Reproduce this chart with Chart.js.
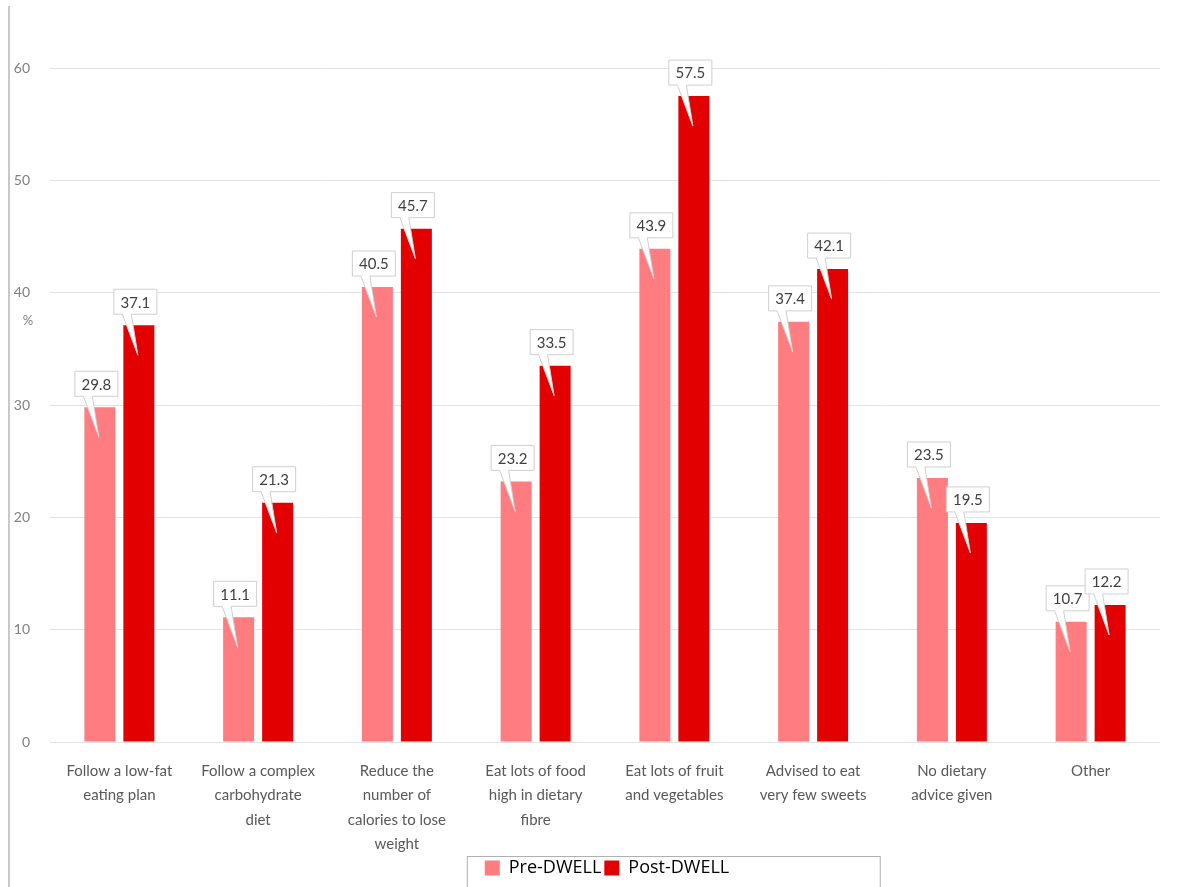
<!DOCTYPE html>
<html>
<head>
<meta charset="utf-8">
<script src="https://cdn.jsdelivr.net/npm/chart.js@4.4.1/dist/chart.umd.min.js"></script>
<style>
  body { margin: 0; background: #fff; }
  #wrap { position: relative; width: 1177px; height: 887px; }
  #edge { position: absolute; left: 8px; top: 6px; width: 2px; height: 881px; background: #c8c8c8; }
</style>
</head>
<body>
<div id="wrap">
  <div id="edge"></div>
  <canvas id="BarChart" width="1177" height="887"></canvas>
</div>
<script>
var categories = [
  ["Follow a low-fat", "eating plan"],
  ["Follow a complex", "carbohydrate", "diet"],
  ["Reduce the", "number of", "calories to lose", "weight"],
  ["Eat lots of food", "high in dietary", "fibre"],
  ["Eat lots of fruit", "and vegetables"],
  ["Advised to eat", "very few sweets"],
  ["No dietary", "advice given"],
  ["Other"]
];
var preValues = [29.8, 11.1, 40.5, 23.2, 43.9, 37.4, 23.5, 10.7];
var postValues = [37.1, 21.3, 45.7, 33.5, 57.5, 42.1, 19.5, 12.2];
var yTicks = [0, 10, 20, 30, 40, 50, 60];

// callout boxes above each bar
var callouts = {
  id: "callouts",
  afterDatasetsDraw: function(chart) {
    var ctx = chart.ctx;
    ctx.save();
    ctx.font = "15px Lato, 'Open Sans', sans-serif";
    ctx.textAlign = "center";
    ctx.textBaseline = "middle";
    chart.data.datasets.forEach(function(ds, di) {
      var meta = chart.getDatasetMeta(di);
      meta.data.forEach(function(bar, i) {
        var x = bar.x, y = bar.y, w = bar.width;
        var bl = x - w / 2;
        var left = x - 25, right = x + 18;
        var bottom = y - 11, top = bottom - 25;
        ctx.beginPath();
        ctx.moveTo(left, top);
        ctx.lineTo(right, top);
        ctx.lineTo(right, bottom);
        ctx.lineTo(bl + 8, bottom);
        ctx.lineTo(x - 1, y + 30);
        ctx.lineTo(bl - 1, bottom);
        ctx.lineTo(left, bottom);
        ctx.closePath();
        ctx.fillStyle = "#ffffff";
        ctx.fill();
        ctx.strokeStyle = "#cfcfcf";
        ctx.lineWidth = 1;
        ctx.stroke();
        ctx.fillStyle = "#404040";
        ctx.fillText(ds.data[i].toFixed(1), (left + right) / 2, (top + bottom) / 2 + 1);
      });
    });
    // axis unit
    var ys = chart.scales.y;
    ctx.font = "13px Lato, sans-serif";
    ctx.fillStyle = "#7f7f7f";
    ctx.fillText("%", 28, ys.getPixelForValue(37.5));
    ctx.restore();
  }
};

// move legend a bit right and put a frame round it
var legendFrame = {
  id: "legendFrame",
  afterLayout: function(chart) {
    var lg = chart.legend;
    lg.left += 22;
    lg.right += 22;
  },
  afterDraw: function(chart) {
    var lg = chart.legend;
    var hb = lg.legendHitBoxes;
    if (!hb || !hb.length) return;
    var ctx = chart.ctx;
    var x0 = hb[0].left - 18;
    ctx.save();
    ctx.strokeStyle = "#b0b0b0";
    ctx.lineWidth = 1;
    ctx.strokeRect(x0 + 0.5, lg.top + 0.5, 413, 40);
    ctx.restore();
  }
};

new Chart("BarChart", {
  type: "bar",
  data: {
    labels: categories,
    datasets: [{
      label: "Pre-DWELL",
      data: preValues,
      backgroundColor: "#ff7c80",
      barPercentage: 0.795,
      categoryPercentage: 0.562
    }, {
      label: "Post-DWELL",
      data: postValues,
      backgroundColor: "#e30000",
      barPercentage: 0.795,
      categoryPercentage: 0.562
    }]
  },
  plugins: [callouts, legendFrame],
  options: {
    responsive: false,
    animation: false,
    layout: { padding: { top: 68, left: 10, right: 17, bottom: 0 } },
    plugins: {
      legend: {
        display: true,
        position: "bottom",
        labels: {
          boxWidth: 15,
          boxHeight: 15,
          padding: 3,
          color: "#000",
          font: { size: 18, family: "'Open Sans', 'Noto Sans', sans-serif" }
        }
      },
      tooltip: { enabled: false }
    },
    scales: {
      x: {
        afterFit: function(scale) { scale.height = 114; },
        grid: { display: false },
        border: { display: false },
        ticks: {
          color: "#595959",
          maxRotation: 0,
          autoSkip: false,
          padding: 9,
          font: { size: 15, family: "Lato, sans-serif", lineHeight: 1.62 }
        }
      },
      y: {
        min: 0,
        max: 60,
        afterFit: function(scale) { scale.width = 40; },
        afterBuildTicks: function(scale) {
          scale.ticks = yTicks.map(function(v) { return { value: v }; });
        },
        grid: { color: "#e3e3e3", drawTicks: false },
        border: { display: false },
        ticks: {
          color: "#7f7f7f",
          padding: 20,
          font: { size: 14, family: "Lato, sans-serif" }
        }
      }
    }
  }
});
</script>
</body>
</html>
